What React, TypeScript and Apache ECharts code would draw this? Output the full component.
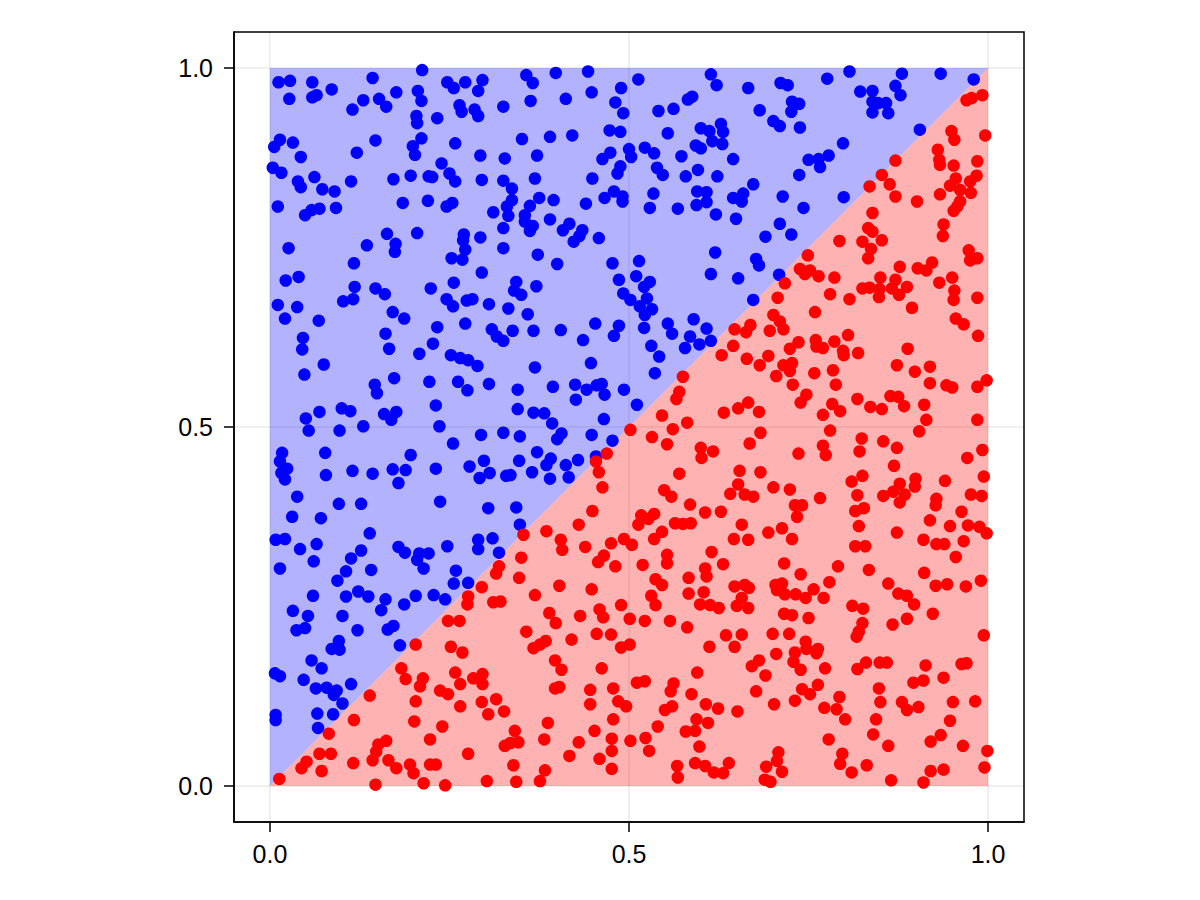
import React, { useEffect, useRef } from 'react';
import * as echarts from 'echarts';

// tick positions shared by both axes
const tickValues = [0, 0.5, 1];

// shaded halves of the unit square
const blueRegion = [[0, 0], [0, 1], [1, 1]];
const redRegion = [[0, 0], [1, 0], [1, 1]];

// points above the diagonal
const bluePoints: number[][] = [
  [0.012, 0.98], [0.028, 0.982], [0.059, 0.98], [0.086, 0.97], [0.143, 0.986], [0.212, 0.997], [0.027, 0.957], [0.059, 0.959],
  [0.065, 0.962], [0.115, 0.942], [0.13, 0.955], [0.152, 0.957], [0.162, 0.946], [0.176, 0.966], [0.206, 0.968], [0.211, 0.954],
  [0.247, 0.98], [0.256, 0.972], [0.272, 0.98], [0.296, 0.983], [0.29, 0.968], [0.264, 0.948], [0.267, 0.939], [0.285, 0.942],
  [0.29, 0.933], [0.204, 0.933], [0.205, 0.923], [0.233, 0.93], [0.014, 0.9], [0.006, 0.89], [0.032, 0.896], [0.043, 0.876],
  [0.147, 0.899], [0.121, 0.882], [0.211, 0.902], [0.199, 0.891], [0.202, 0.879], [0.258, 0.895], [0.293, 0.878], [0.004, 0.861],
  [0.016, 0.854], [0.039, 0.842], [0.043, 0.834], [0.062, 0.848], [0.073, 0.831], [0.09, 0.828], [0.113, 0.842], [0.172, 0.845],
  [0.196, 0.85], [0.221, 0.849], [0.226, 0.848], [0.239, 0.867], [0.25, 0.853], [0.258, 0.842], [0.295, 0.844], [0.011, 0.807],
  [0.049, 0.795], [0.058, 0.802], [0.069, 0.804], [0.092, 0.805], [0.185, 0.812], [0.22, 0.815], [0.246, 0.807], [0.254, 0.812],
  [0.311, 0.799], [0.163, 0.769], [0.175, 0.755], [0.174, 0.744], [0.205, 0.77], [0.27, 0.768], [0.269, 0.76], [0.272, 0.747],
  [0.268, 0.733], [0.253, 0.735], [0.293, 0.764], [0.026, 0.749], [0.135, 0.753], [0.117, 0.728], [0.022, 0.704], [0.04, 0.709],
  [0.118, 0.695], [0.147, 0.693], [0.16, 0.685], [0.224, 0.693], [0.256, 0.701], [0.295, 0.715],
  [0.357, 0.99], [0.366, 0.979], [0.398, 0.993], [0.443, 0.995], [0.513, 0.984], [0.614, 0.991], [0.622, 0.976], [0.325, 0.946],
  [0.363, 0.954], [0.412, 0.957], [0.448, 0.966], [0.489, 0.972], [0.481, 0.952], [0.492, 0.937], [0.541, 0.94], [0.562, 0.943],
  [0.582, 0.956], [0.588, 0.96], [0.473, 0.913], [0.488, 0.911], [0.351, 0.901], [0.39, 0.904], [0.421, 0.906], [0.554, 0.909],
  [0.6, 0.916], [0.612, 0.912], [0.628, 0.922], [0.631, 0.911], [0.616, 0.898], [0.63, 0.894], [0.593, 0.892], [0.6, 0.888],
  [0.327, 0.874], [0.372, 0.878], [0.474, 0.882], [0.463, 0.873], [0.5, 0.887], [0.503, 0.876], [0.522, 0.889], [0.535, 0.881],
  [0.573, 0.877], [0.645, 0.873], [0.369, 0.846], [0.449, 0.846], [0.488, 0.863], [0.484, 0.853], [0.539, 0.861], [0.547, 0.851],
  [0.579, 0.849], [0.596, 0.858], [0.623, 0.849], [0.325, 0.843], [0.337, 0.832], [0.337, 0.816], [0.33, 0.807], [0.332, 0.794],
  [0.362, 0.808], [0.375, 0.819], [0.395, 0.816], [0.355, 0.795], [0.355, 0.786], [0.366, 0.78], [0.362, 0.773], [0.39, 0.789],
  [0.325, 0.777], [0.417, 0.783], [0.408, 0.774], [0.435, 0.774], [0.431, 0.766], [0.423, 0.758], [0.458, 0.763], [0.44, 0.811],
  [0.466, 0.819], [0.479, 0.828], [0.491, 0.821], [0.491, 0.814], [0.534, 0.825], [0.529, 0.805], [0.568, 0.804], [0.595, 0.828],
  [0.608, 0.827], [0.594, 0.809], [0.608, 0.813], [0.621, 0.796], [0.649, 0.79], [0.645, 0.819], [0.325, 0.749], [0.373, 0.74],
  [0.4, 0.727], [0.477, 0.728], [0.514, 0.731], [0.62, 0.743], [0.614, 0.713], [0.652, 0.707], [0.486, 0.705], [0.51, 0.71],
  [0.529, 0.702], [0.521, 0.695], [0.343, 0.702], [0.34, 0.69], [0.35, 0.684], [0.371, 0.696], [0.492, 0.686],
  [0.666, 0.972], [0.711, 0.979], [0.721, 0.976], [0.776, 0.985], [0.807, 0.995], [0.88, 0.992], [0.934, 0.992], [0.98, 0.984],
  [0.822, 0.967], [0.839, 0.968], [0.871, 0.975], [0.878, 0.962], [0.839, 0.953], [0.847, 0.951], [0.858, 0.951], [0.839, 0.938],
  [0.861, 0.937], [0.682, 0.941], [0.727, 0.953], [0.737, 0.95], [0.726, 0.939], [0.701, 0.926], [0.71, 0.919], [0.738, 0.917],
  [0.905, 0.914], [0.798, 0.895], [0.75, 0.872], [0.764, 0.873], [0.778, 0.878], [0.766, 0.862], [0.737, 0.851], [0.673, 0.838],
  [0.659, 0.825], [0.657, 0.814], [0.714, 0.821], [0.743, 0.805], [0.799, 0.82], [0.71, 0.783], [0.726, 0.768], [0.69, 0.765],
  [0.677, 0.734], [0.681, 0.725], [0.709, 0.712],
  [0.011, 0.67], [0.038, 0.667], [0.021, 0.651], [0.102, 0.675], [0.116, 0.678], [0.068, 0.648], [0.171, 0.66], [0.187, 0.651],
  [0.046, 0.624], [0.045, 0.608], [0.161, 0.63], [0.166, 0.609], [0.075, 0.587], [0.048, 0.573], [0.208, 0.602], [0.227, 0.616],
  [0.233, 0.639], [0.246, 0.678], [0.255, 0.668], [0.274, 0.676], [0.282, 0.678], [0.305, 0.671], [0.272, 0.644], [0.309, 0.636],
  [0.316, 0.626], [0.252, 0.6], [0.265, 0.596], [0.276, 0.593], [0.289, 0.585], [0.173, 0.568], [0.146, 0.559], [0.149, 0.547],
  [0.222, 0.563], [0.262, 0.563], [0.275, 0.551], [0.305, 0.56], [0.231, 0.53], [0.236, 0.501], [0.05, 0.512], [0.054, 0.495],
  [0.069, 0.521], [0.1, 0.526], [0.112, 0.522], [0.097, 0.495], [0.13, 0.501], [0.159, 0.518], [0.176, 0.521], [0.169, 0.51],
  [0.294, 0.489], [0.255, 0.477], [0.017, 0.464], [0.014, 0.452], [0.024, 0.442], [0.016, 0.436], [0.021, 0.427], [0.077, 0.464],
  [0.078, 0.433], [0.115, 0.439], [0.143, 0.435], [0.171, 0.441], [0.189, 0.44], [0.179, 0.422], [0.196, 0.461], [0.231, 0.442],
  [0.278, 0.445], [0.298, 0.453], [0.306, 0.436], [0.292, 0.429], [0.038, 0.403], [0.031, 0.375], [0.071, 0.373], [0.096, 0.393],
  [0.127, 0.393], [0.237, 0.396], [0.304, 0.387], [0.139, 0.352],
  [0.332, 0.665], [0.359, 0.657], [0.338, 0.634], [0.325, 0.62], [0.367, 0.634], [0.405, 0.635], [0.436, 0.621], [0.453, 0.644],
  [0.486, 0.641], [0.479, 0.627], [0.502, 0.677], [0.525, 0.679], [0.515, 0.668], [0.532, 0.664], [0.522, 0.656], [0.521, 0.638],
  [0.554, 0.644], [0.56, 0.63], [0.59, 0.65], [0.608, 0.637], [0.585, 0.626], [0.598, 0.615], [0.614, 0.62], [0.578, 0.61],
  [0.531, 0.613], [0.542, 0.598], [0.536, 0.575], [0.447, 0.589], [0.369, 0.583], [0.345, 0.552], [0.394, 0.556], [0.425, 0.559],
  [0.441, 0.552], [0.455, 0.558], [0.462, 0.56], [0.466, 0.545], [0.426, 0.538], [0.493, 0.552], [0.511, 0.531], [0.345, 0.525],
  [0.367, 0.52], [0.382, 0.519], [0.393, 0.505], [0.465, 0.511], [0.325, 0.492], [0.348, 0.487], [0.406, 0.491], [0.4, 0.483],
  [0.448, 0.489], [0.477, 0.481], [0.372, 0.465], [0.391, 0.456], [0.385, 0.447], [0.412, 0.447], [0.429, 0.454], [0.454, 0.459],
  [0.347, 0.453], [0.365, 0.437], [0.329, 0.432], [0.335, 0.433], [0.39, 0.428], [0.416, 0.43], [0.343, 0.388], [0.348, 0.364],
  [0.673, 0.677],
  [0.008, 0.343], [0.021, 0.344], [0.042, 0.33], [0.065, 0.337], [0.014, 0.303], [0.061, 0.313], [0.113, 0.317], [0.127, 0.328],
  [0.106, 0.299], [0.094, 0.286], [0.141, 0.301], [0.179, 0.333], [0.188, 0.325], [0.208, 0.324], [0.221, 0.324], [0.205, 0.315],
  [0.214, 0.303], [0.247, 0.334], [0.29, 0.343], [0.29, 0.33], [0.31, 0.345], [0.319, 0.325], [0.259, 0.3], [0.256, 0.282],
  [0.276, 0.283], [0.06, 0.265], [0.106, 0.264], [0.123, 0.271], [0.137, 0.264], [0.161, 0.26], [0.155, 0.245], [0.187, 0.253],
  [0.203, 0.265], [0.228, 0.266], [0.244, 0.26], [0.032, 0.244], [0.053, 0.237], [0.101, 0.237], [0.037, 0.217], [0.049, 0.22],
  [0.122, 0.217], [0.164, 0.218], [0.172, 0.223], [0.096, 0.202], [0.086, 0.191], [0.097, 0.19], [0.181, 0.196], [0.058, 0.175],
  [0.072, 0.164], [0.007, 0.157], [0.014, 0.153], [0.047, 0.148], [0.064, 0.136], [0.079, 0.137], [0.093, 0.133], [0.089, 0.127],
  [0.113, 0.142], [0.101, 0.115], [0.008, 0.099], [0.008, 0.092], [0.066, 0.101], [0.088, 0.1], [0.067, 0.081],
];

// points below the diagonal
const redPoints: number[][] = [
  [0.97, 0.955], [0.977, 0.958], [0.992, 0.962], [0.949, 0.912], [0.953, 0.9], [0.996, 0.906], [0.93, 0.886], [0.932, 0.872],
  [0.933, 0.865], [0.952, 0.864], [0.985, 0.87], [0.871, 0.871], [0.852, 0.851], [0.863, 0.838], [0.835, 0.835], [0.871, 0.821],
  [0.901, 0.814], [0.933, 0.824], [0.955, 0.846], [0.947, 0.836], [0.961, 0.83], [0.975, 0.842], [0.984, 0.85], [0.976, 0.826],
  [0.961, 0.814], [0.957, 0.807], [0.952, 0.801], [0.839, 0.798], [0.938, 0.782], [0.937, 0.766], [0.833, 0.777], [0.839, 0.772],
  [0.825, 0.758], [0.852, 0.76], [0.793, 0.759], [0.837, 0.748], [0.833, 0.735], [0.749, 0.739], [0.973, 0.746], [0.975, 0.732],
  [0.985, 0.735], [0.738, 0.72], [0.745, 0.713], [0.752, 0.718], [0.764, 0.71], [0.786, 0.708], [0.877, 0.723], [0.902, 0.721],
  [0.914, 0.718], [0.922, 0.729], [0.85, 0.708], [0.871, 0.705], [0.887, 0.695], [0.932, 0.701], [0.95, 0.708], [0.953, 0.69],
  [0.717, 0.7], [0.825, 0.693], [0.835, 0.694], [0.849, 0.692], [0.866, 0.693], [0.78, 0.685], [0.876, 0.684],
  [0.647, 0.636], [0.645, 0.613], [0.629, 0.6], [0.575, 0.57], [0.57, 0.549], [0.566, 0.539], [0.652, 0.526], [0.632, 0.52],
  [0.546, 0.516], [0.581, 0.506], [0.561, 0.497], [0.502, 0.496], [0.532, 0.486], [0.553, 0.476], [0.6, 0.471], [0.617, 0.466],
  [0.601, 0.457], [0.469, 0.463], [0.454, 0.452], [0.458, 0.437], [0.57, 0.435], [0.654, 0.439], [0.463, 0.416], [0.549, 0.412],
  [0.559, 0.403], [0.652, 0.42], [0.641, 0.407], [0.585, 0.392], [0.606, 0.381], [0.628, 0.382], [0.449, 0.383], [0.43, 0.364],
  [0.385, 0.355], [0.353, 0.35], [0.517, 0.377], [0.535, 0.379], [0.513, 0.364], [0.527, 0.372], [0.564, 0.366], [0.575, 0.365],
  [0.586, 0.366], [0.546, 0.354],
  [0.707, 0.68], [0.807, 0.678], [0.848, 0.681], [0.894, 0.666], [0.952, 0.677], [0.985, 0.68], [0.955, 0.651], [0.966, 0.643],
  [0.986, 0.627], [0.759, 0.66], [0.701, 0.656], [0.71, 0.647], [0.715, 0.636], [0.696, 0.634], [0.669, 0.642], [0.663, 0.632],
  [0.805, 0.628], [0.736, 0.618], [0.724, 0.609], [0.76, 0.621], [0.761, 0.612], [0.77, 0.61], [0.786, 0.619], [0.798, 0.606],
  [0.799, 0.6], [0.819, 0.603], [0.888, 0.609], [0.694, 0.599], [0.682, 0.586], [0.664, 0.595], [0.715, 0.586], [0.727, 0.589],
  [0.724, 0.578], [0.705, 0.571], [0.758, 0.575], [0.784, 0.579], [0.788, 0.559], [0.728, 0.559], [0.873, 0.586], [0.898, 0.577],
  [0.919, 0.584], [0.919, 0.561], [0.942, 0.558], [0.95, 0.555], [0.985, 0.556], [0.998, 0.565], [0.747, 0.545], [0.739, 0.534],
  [0.818, 0.539], [0.836, 0.528], [0.852, 0.525], [0.864, 0.543], [0.875, 0.542], [0.883, 0.529], [0.911, 0.531], [0.914, 0.51],
  [0.904, 0.494], [0.985, 0.51], [0.666, 0.534], [0.681, 0.521], [0.783, 0.532], [0.794, 0.522], [0.77, 0.517], [0.78, 0.495],
  [0.683, 0.492], [0.668, 0.477], [0.824, 0.484], [0.821, 0.466], [0.854, 0.48], [0.873, 0.471], [0.869, 0.446], [0.736, 0.463],
  [0.77, 0.474], [0.774, 0.461], [0.971, 0.457], [0.992, 0.468], [0.683, 0.437], [0.661, 0.406], [0.673, 0.403], [0.701, 0.416],
  [0.724, 0.413], [0.766, 0.401], [0.731, 0.391], [0.741, 0.391], [0.734, 0.375], [0.81, 0.424], [0.825, 0.432], [0.818, 0.405],
  [0.815, 0.383], [0.827, 0.387], [0.82, 0.362], [0.854, 0.404], [0.868, 0.41], [0.877, 0.421], [0.884, 0.406], [0.877, 0.395],
  [0.899, 0.428], [0.898, 0.417], [0.94, 0.425], [0.994, 0.431], [0.928, 0.4], [0.927, 0.391], [0.976, 0.406], [0.991, 0.404],
  [0.963, 0.382], [0.919, 0.37], [0.947, 0.362], [0.972, 0.363], [0.988, 0.361], [0.998, 0.352], [0.657, 0.364], [0.694, 0.353],
  [0.713, 0.359], [0.873, 0.353],
  [0.319, 0.306], [0.315, 0.296], [0.295, 0.277], [0.276, 0.264], [0.275, 0.253], [0.311, 0.256], [0.321, 0.257], [0.248, 0.23],
  [0.264, 0.23], [0.203, 0.197], [0.252, 0.194], [0.268, 0.186], [0.183, 0.164], [0.189, 0.149], [0.213, 0.15], [0.209, 0.139],
  [0.258, 0.158], [0.265, 0.142], [0.237, 0.133], [0.248, 0.128], [0.283, 0.15], [0.296, 0.156], [0.296, 0.142], [0.139, 0.126],
  [0.203, 0.118], [0.265, 0.111], [0.295, 0.117], [0.315, 0.121], [0.304, 0.1], [0.117, 0.092], [0.201, 0.09], [0.24, 0.083],
  [0.082, 0.073], [0.223, 0.065], [0.151, 0.058], [0.162, 0.063], [0.148, 0.048], [0.069, 0.045], [0.085, 0.045], [0.051, 0.034],
  [0.044, 0.025], [0.072, 0.021], [0.116, 0.032], [0.143, 0.036], [0.165, 0.036], [0.176, 0.025], [0.195, 0.03], [0.2, 0.018],
  [0.223, 0.03], [0.231, 0.03], [0.276, 0.045], [0.013, 0.01], [0.147, 0.002], [0.214, 0.004], [0.244, 0.001], [0.302, 0.007],
  [0.405, 0.343], [0.407, 0.329], [0.439, 0.333], [0.475, 0.338], [0.493, 0.344], [0.504, 0.336], [0.535, 0.344], [0.553, 0.322],
  [0.553, 0.31], [0.519, 0.308], [0.481, 0.306], [0.457, 0.312], [0.465, 0.321], [0.35, 0.318], [0.347, 0.29], [0.369, 0.266],
  [0.403, 0.279], [0.448, 0.274], [0.537, 0.288], [0.546, 0.28], [0.531, 0.265], [0.537, 0.252], [0.583, 0.29], [0.583, 0.268],
  [0.604, 0.27], [0.606, 0.303], [0.608, 0.292], [0.615, 0.326], [0.631, 0.309], [0.646, 0.344], [0.647, 0.278], [0.599, 0.253],
  [0.613, 0.252], [0.625, 0.248], [0.65, 0.251], [0.389, 0.241], [0.398, 0.227], [0.432, 0.237], [0.459, 0.246], [0.464, 0.235],
  [0.489, 0.252], [0.501, 0.233], [0.522, 0.23], [0.557, 0.23], [0.581, 0.221], [0.357, 0.215], [0.455, 0.212], [0.475, 0.211],
  [0.42, 0.204], [0.367, 0.192], [0.376, 0.197], [0.384, 0.202], [0.489, 0.193], [0.501, 0.197], [0.612, 0.194], [0.635, 0.21],
  [0.647, 0.194], [0.397, 0.175], [0.406, 0.162], [0.397, 0.136], [0.403, 0.138], [0.462, 0.164], [0.511, 0.144], [0.522, 0.146],
  [0.562, 0.143], [0.558, 0.132], [0.595, 0.158], [0.587, 0.128], [0.446, 0.134], [0.478, 0.136], [0.485, 0.118], [0.496, 0.111],
  [0.446, 0.114], [0.326, 0.104], [0.478, 0.093], [0.387, 0.088], [0.55, 0.106], [0.56, 0.111], [0.607, 0.114], [0.624, 0.108],
  [0.651, 0.104], [0.594, 0.093], [0.61, 0.088], [0.579, 0.076], [0.592, 0.077], [0.54, 0.083], [0.523, 0.067], [0.502, 0.063],
  [0.528, 0.049], [0.598, 0.055], [0.341, 0.077], [0.346, 0.061], [0.335, 0.06], [0.327, 0.056], [0.382, 0.065], [0.43, 0.061],
  [0.452, 0.077], [0.476, 0.066], [0.476, 0.049], [0.417, 0.042], [0.459, 0.038], [0.476, 0.024], [0.339, 0.029], [0.383, 0.022],
  [0.376, 0.007], [0.343, 0.006], [0.567, 0.028], [0.568, 0.012], [0.592, 0.032], [0.606, 0.028], [0.618, 0.019], [0.631, 0.018],
  [0.639, 0.032],
  [0.666, 0.343], [0.727, 0.344], [0.91, 0.343], [0.966, 0.341], [0.928, 0.337], [0.939, 0.337], [0.815, 0.334], [0.829, 0.334],
  [0.955, 0.319], [0.716, 0.31], [0.739, 0.295], [0.791, 0.306], [0.834, 0.301], [0.911, 0.297], [0.99, 0.286], [0.969, 0.278],
  [0.943, 0.281], [0.927, 0.279], [0.861, 0.282], [0.875, 0.268], [0.887, 0.265], [0.897, 0.253], [0.923, 0.24], [0.887, 0.233],
  [0.867, 0.225], [0.779, 0.284], [0.771, 0.262], [0.757, 0.274], [0.746, 0.262], [0.732, 0.267], [0.717, 0.267], [0.704, 0.28],
  [0.713, 0.282], [0.706, 0.273], [0.661, 0.28], [0.667, 0.276], [0.657, 0.262], [0.666, 0.248], [0.716, 0.24], [0.727, 0.238],
  [0.75, 0.234], [0.811, 0.251], [0.826, 0.247], [0.825, 0.227], [0.82, 0.215], [0.817, 0.208], [0.657, 0.211], [0.7, 0.212],
  [0.723, 0.212], [0.746, 0.201], [0.747, 0.191], [0.763, 0.191], [0.761, 0.185], [0.731, 0.186], [0.729, 0.173], [0.739, 0.162],
  [0.705, 0.184], [0.671, 0.167], [0.681, 0.175], [0.69, 0.154], [0.677, 0.132], [0.702, 0.114], [0.731, 0.119], [0.741, 0.135],
  [0.752, 0.128], [0.763, 0.141], [0.773, 0.164], [0.818, 0.163], [0.83, 0.172], [0.849, 0.172], [0.859, 0.172], [0.913, 0.168],
  [0.963, 0.17], [0.97, 0.171], [0.994, 0.21], [0.896, 0.144], [0.91, 0.147], [0.938, 0.151], [0.848, 0.136], [0.85, 0.117],
  [0.88, 0.117], [0.887, 0.106], [0.903, 0.11], [0.951, 0.117], [0.982, 0.118], [0.772, 0.109], [0.793, 0.124], [0.789, 0.107],
  [0.801, 0.093], [0.844, 0.093], [0.84, 0.072], [0.861, 0.056], [0.947, 0.091], [0.934, 0.071], [0.92, 0.062], [0.965, 0.056],
  [0.999, 0.049], [0.995, 0.026], [0.778, 0.065], [0.797, 0.045], [0.794, 0.031], [0.81, 0.019], [0.831, 0.029], [0.708, 0.047],
  [0.706, 0.035], [0.691, 0.027], [0.713, 0.02], [0.689, 0.009], [0.697, 0.006], [0.92, 0.021], [0.938, 0.023], [0.865, 0.008],
  [0.91, 0.005],
];

const AXIS_MIN = -0.05;
const AXIS_MAX = 1.05;

const regionSeries = (points: number[][], fill: string) => ({
  type: 'custom',
  silent: true,
  z: 1,
  data: [[0, 0]],
  renderItem: (_params: any, api: any) => ({
    type: 'polygon',
    shape: { points: points.map((p) => api.coord(p)) },
    style: { fill },
  }),
});

const gridLineSeries = {
  type: 'custom',
  silent: true,
  z: 0,
  data: [[0, 0]],
  renderItem: (_params: any, api: any) => {
    const stroke = 'rgba(0,0,0,0.12)';
    const vertical = tickValues.map((v) => {
      const a = api.coord([v, AXIS_MIN]);
      const b = api.coord([v, AXIS_MAX]);
      return { type: 'line', shape: { x1: a[0], y1: a[1], x2: b[0], y2: b[1] }, style: { stroke, lineWidth: 1 } };
    });
    const horizontal = tickValues.map((v) => {
      const a = api.coord([AXIS_MIN, v]);
      const b = api.coord([AXIS_MAX, v]);
      return { type: 'line', shape: { x1: a[0], y1: a[1], x2: b[0], y2: b[1] }, style: { stroke, lineWidth: 1 } };
    });
    return { type: 'group', children: [...vertical, ...horizontal] };
  },
};

const makeAxis = (labelMargin: number) => ({
  type: 'value',
  min: AXIS_MIN,
  max: AXIS_MAX,
  axisLine: { show: true, onZero: false, lineStyle: { color: '#000', width: 1.5 } },
  splitLine: { show: false },
  axisTick: {
    show: true,
    inside: false,
    length: 10,
    customValues: tickValues,
    lineStyle: { color: '#000', width: 1.5 },
  },
  axisLabel: {
    customValues: tickValues,
    formatter: (v: number) => v.toFixed(1),
    fontSize: 25,
    color: '#000',
    fontFamily: 'Liberation Sans, Arial, sans-serif',
    margin: labelMargin,
  },
});

const App: React.FC = () => {
  const chartRef = useRef<HTMLDivElement>(null);

  useEffect(() => {
    if (!chartRef.current) return;
    const chart = echarts.init(chartRef.current, undefined, { renderer: 'svg' });

    chart.setOption({
      animation: false,
      backgroundColor: '#fff',
      grid: {
        left: 234,
        top: 32,
        width: 790,
        height: 790,
        show: true,
        borderColor: '#000',
        borderWidth: 1.5,
        backgroundColor: 'transparent',
      },
      xAxis: makeAxis(19),
      yAxis: makeAxis(21),
      series: [
        gridLineSeries,
        regionSeries(blueRegion, 'rgba(0,0,255,0.3)'),
        regionSeries(redRegion, 'rgba(255,0,0,0.3)'),
        {
          type: 'scatter',
          data: bluePoints,
          symbolSize: 12.5,
          itemStyle: { color: '#0000ff', opacity: 1 },
          z: 3,
        },
        {
          type: 'scatter',
          data: redPoints,
          symbolSize: 12.5,
          itemStyle: { color: '#ff0000', opacity: 1 },
          z: 3,
        },
      ],
    });

    return () => {
      chart.dispose();
    };
  }, []);

  return (
    <div
      ref={chartRef}
      style={{ position: 'fixed', left: 0, top: 0, width: '1200px', height: '900px' }}
    ></div>
  );
};

export default App;
